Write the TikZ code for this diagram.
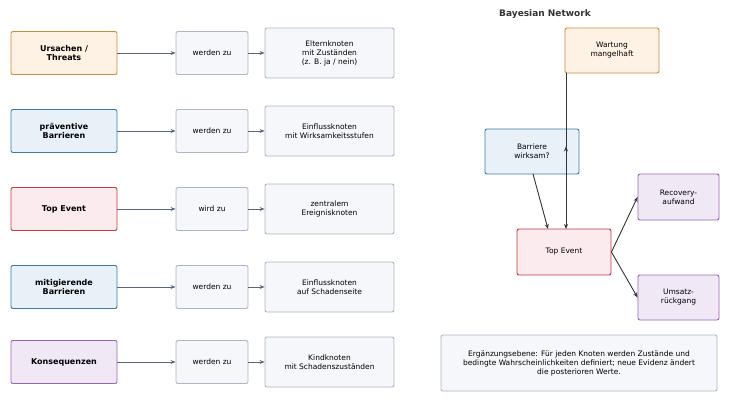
\documentclass[tikz,border=0pt]{standalone}
\usepackage{fontspec}
\setmainfont{DejaVu Sans}
\usetikzlibrary{arrows.meta}
\definecolor{oB}{HTML}{D08A3A}\definecolor{oF}{HTML}{FDF2E4}
\definecolor{bB}{HTML}{3A7CA8}\definecolor{bF}{HTML}{E8F1F8}
\definecolor{rB}{HTML}{C0393B}\definecolor{rF}{HTML}{FCEBEE}
\definecolor{pB}{HTML}{9A64B4}\definecolor{pF}{HTML}{F1E8F6}
\definecolor{gB}{HTML}{AEB6C6}\definecolor{gF}{HTML}{F5F7FA}
\definecolor{aL}{HTML}{5A6478}
\begin{document}
\begin{tikzpicture}[x=1pt,y=-1pt,
 box/.style={draw,rounded corners=2pt,line width=0.9pt,align=center,inner sep=0pt,font=\fontsize{7.5}{9}\selectfont},
 bx/.style args={#1/#2/#3/#4}{box,minimum width=#3,minimum height=#4},
 src/.style={font=\fontsize{8}{9.5}\selectfont\bfseries},
 org/.style={draw=oB,fill=oF},blu/.style={draw=bB,fill=bF},red/.style={draw=rB,fill=rF},pur/.style={draw=pB,fill=pF},gry/.style={draw=gB,fill=gF},
 la/.style={draw=aL,line width=1pt,-{Stealth[length=5pt,width=4pt]}},
 ra/.style={draw=black!80,line width=0.9pt,-{Stealth[length=5pt,width=4pt]}}]
\useasboundingbox (0,0) rectangle (730,402);
\fill[white] (0,0) rectangle (730,402);
\foreach \i/\y/\st/\a/\b/\c in {1/53/org/{Ursachen /\\Threats}/werden zu/{Elternknoten\\mit Zuständen\\(z. B. ja / nein)},
 2/131/blu/{präventive\\Barrieren}/werden zu/{Einflussknoten\\mit Wirksamkeitsstufen},
 3/209/red/{Top Event}/wird zu/{zentralem\\Ereignisknoten},
 4/287/blu/{mitigierende\\Barrieren}/werden zu/{Einflussknoten\\auf Schadenseite},
 5/362/pur/{Konsequenzen}/werden zu/{Kindknoten\\mit Schadenszuständen}}{
 \node[box,\st,src,minimum width=106,minimum height=43] (l\i) at (64,\y) {\a};
 \node[box,gry,minimum width=72,minimum height=43] (m\i) at (212,\y) {\b};
 \node[box,gry,minimum width=129,minimum height=50] (r\i) at (329.5,\y) {\c};
 \draw[la] (l\i) -- (m\i);
 \draw[la] (m\i) -- (r\i);
}
\node[font=\fontsize{9}{11}\selectfont\bfseries,text=black!80] (t) at (545,14) {Bayesian Network};
\node[box,org,minimum width=94,minimum height=45] (w) at (612,50.5) {Wartung\\mangelhaft};
\node[box,blu,minimum width=94,minimum height=45] (ba) at (532,151.5) {Barriere\\wirksam?};
\node[box,red,minimum width=94,minimum height=46] (te) at (564,252) {Top Event};
\node[box,pur,minimum width=81,minimum height=46] (rc) at (678.5,197) {Recovery-\\aufwand};
\node[box,pur,minimum width=81,minimum height=45] (um) at (678.5,297.5) {Umsatz-\\rückgang};
\node[box,gry,minimum width=276,minimum height=56] (n) at (579,363) {Ergänzungsebene: Für jeden Knoten werden Zustände und\\bedingte Wahrscheinlichkeiten definiert; neue Evidenz ändert\\die posterioren Werte.};
\draw[ra] (w.south west -| 566,0) ++(0,73) coordinate (ws);
\coordinate (ws) at (566,73);\coordinate (we) at (566,229);
\draw[ra] (ws) -- (we);
\coordinate (bs) at (533,174);\coordinate (be) at (548,229);
\draw[ra] (bs) -- (be);
\draw[ra] (te.east) -- (rc.west);
\draw[ra] (te.east) -- (um.west);
\end{tikzpicture}
\end{document}
